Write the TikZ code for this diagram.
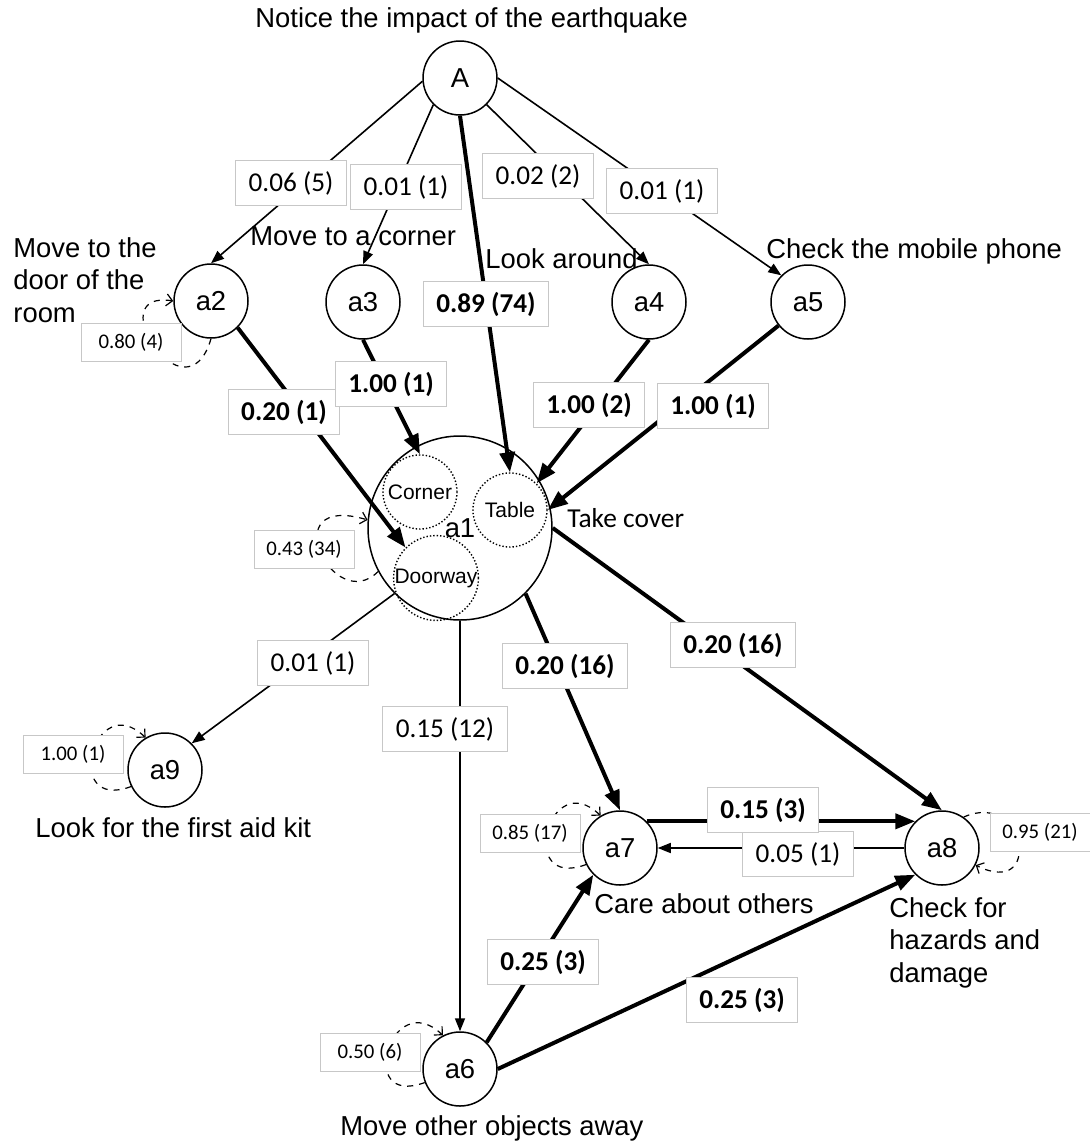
\documentclass[tikz,border=0pt]{standalone}
\usepackage{fontspec}
\setmainfont{Liberation Sans}
\newfontfamily\lblfont{Carlito}
\usetikzlibrary{arrows.meta}
\tikzset{state/.style={draw,circle,line width=0.75pt,minimum size=37pt,inner sep=0pt,font=\fontsize{13.7}{16}\selectfont},
         bigstate/.style={state,minimum size=92pt},
         cover/.style={draw,circle,densely dotted,line width=0.7pt,minimum size=37pt,inner sep=0pt,font=\fontsize{10.5}{12}\selectfont},
         prob/.style={draw=black!22,fill=white,line width=0.5pt,minimum height=22.5pt,inner xsep=6.5pt,inner ysep=0pt,font=\lblfont\fontsize{13.6}{15}\selectfont},
         bprob/.style={prob,font=\lblfont\bfseries\fontsize{13.6}{15}\selectfont},
         sprob/.style={prob,minimum width=50pt,minimum height=19pt,inner xsep=4pt,font=\lblfont\fontsize{10.4}{12}\selectfont},
         desc/.style={inner sep=0pt,font=\fontsize{13.7}{16.25}\selectfont,align=left},
         trans/.style={line width=0.8pt,-{Triangle[length=6.5pt,width=5pt]}},
         strong/.style={line width=2pt,-{Triangle[length=10pt,width=7.5pt]}},
         selfloop/.style={dashed,line width=0.6pt,-{Straight Barb[length=3pt,width=6pt]}},
        }

\begin{document}
\begin{tikzpicture}[x=0.5pt,y=-0.5pt]
        \useasboundingbox (0,0) rectangle (1089,1142);

        \node[state](A)at(460,78){A};
        \node[state](a2)at(211,301){a2};
        \node[state](a3)at(363,302){a3};
        \node[state](a4)at(649,302){a4};
        \node[state](a5)at(808,302){a5};
        \node[bigstate](a1)at(460,528){a1};
        \node[cover](crn)at(420,492){Corner};
        \node[cover](tbl)at(510,510){Table};
        \node[cover](dwy)at(436,578){Doorway};
        \node[state](a9)at(165,770){a9};
        \node[state](a7)at(620,848){a7};
        \node[state](a8)at(942,848){a8};
        \node[state](a6)at(460,1069){a6};

        \node[desc,anchor=base west](dA)at(255,27){Notice the impact of the earthquake};
        \node[desc,anchor=north west](d2)at(13,237){Move to the\\door of the\\room};
        \node[desc,anchor=base west](d3)at(250,245){Move to a corner};
        \node[desc,anchor=base west](d4)at(485,268){Look around};
        \node[desc,anchor=base west](d5)at(766,258){Check the mobile phone};
        \node[desc,anchor=base west,font=\lblfont\fontsize{13.7}{16}\selectfont](d1)at(567,527){Take cover};
        \node[desc,anchor=base west](d9)at(35,837){Look for the first aid kit};
        \node[desc,anchor=base west](d7)at(594,913){Care about others};
        \node[desc,anchor=north west](d8)at(889,897){Check for\\hazards and\\damage};
        \node[desc,anchor=base west](d6)at(340,1135){Move other objects away};

        \draw[trans](A.185)--(a2.north);
        \draw[trans](A.225)--(a3.north);
        \draw[strong](A.south)--(tbl.north);
        \draw[trans](A.-45)--(a4.north);
        \draw[trans](A.east)--(a5.135);
        \draw[strong](a2.-45)--(dwy.135);
        \draw[strong](a3.south)--(crn.north);
        \draw[strong](a4.south)--(tbl.45);
        \draw[strong](a5)--(tbl.east);
        \draw[trans](a1.225)--(a9.45);
        \draw[trans](a1.south)--(a6.north);
        \draw[strong](a1.-45)--(a7.north);
        \draw[strong](a1.east)--(a8.north);
        \draw[strong](a7.45)--(a8.135);
        \draw[trans](a8.west)--(a7.east);
        \draw[strong](a6.45)--(a7.225);
        \draw[strong](a6.east)--(a8.225);

        \draw[selfloop](a2.south)..controls +(-25,85) and +(-75,-12)..(a2.west);
        \draw[selfloop](a1.208)..controls +(-45,45) and +(-95,-28)..(a1.175);
        \draw[selfloop](a9.206)..controls +(-70,26) and +(-52,-50)..(a9.121);
        \draw[selfloop](a7.206)..controls +(-70,26) and +(-52,-50)..(a7.121);
        \draw[selfloop](a6.201)..controls +(-70,26) and +(-52,-50)..(a6.117);
        \draw[selfloop](a8.55)..controls +(62,-28) and +(68,34)..(a8.-27);

        \node[prob](pA2)at(291,183){0.06 (5)};
        \node[prob](pA3)at(406,187){0.01 (1)};
        \node[prob](pA4)at(538,176){0.02 (2)};
        \node[prob](pA5)at(662,191){0.01 (1)};
        \node[bprob](pA1)at(486,304){0.89 (74)};
        \node[bprob](p21)at(284,412){0.20 (1)};
        \node[bprob](p31)at(391,384){1.00 (1)};
        \node[bprob](p41)at(589,405){1.00 (2)};
        \node[bprob](p51)at(713,406){1.00 (1)};
        \node[prob](p19)at(313,663){0.01 (1)};
        \node[prob](p16)at(445,729){0.15 (12)};
        \node[bprob](p17)at(565,666){0.20 (16)};
        \node[bprob](p18)at(733,645){0.20 (16)};
        \node[prob](p87)at(798,854){0.05 (1)};
        \node[bprob](p78)at(763,810){0.15 (3)};
        \node[bprob](p67)at(543,962){0.25 (3)};
        \node[bprob](p68)at(742,1000){0.25 (3)};

        \node[sprob](l2)at(131,342){0.80 (4)};
        \node[sprob](l1)at(304,549){0.43 (34)};
        \node[sprob](l9)at(73,754){1.00 (1)};
        \node[sprob](l7)at(530,833){0.85 (17)};
        \node[sprob](l8)at(1040,832){0.95 (21)};
        \node[sprob](l6)at(370,1052){0.50 (6)};
\end{tikzpicture}
\end{document}
